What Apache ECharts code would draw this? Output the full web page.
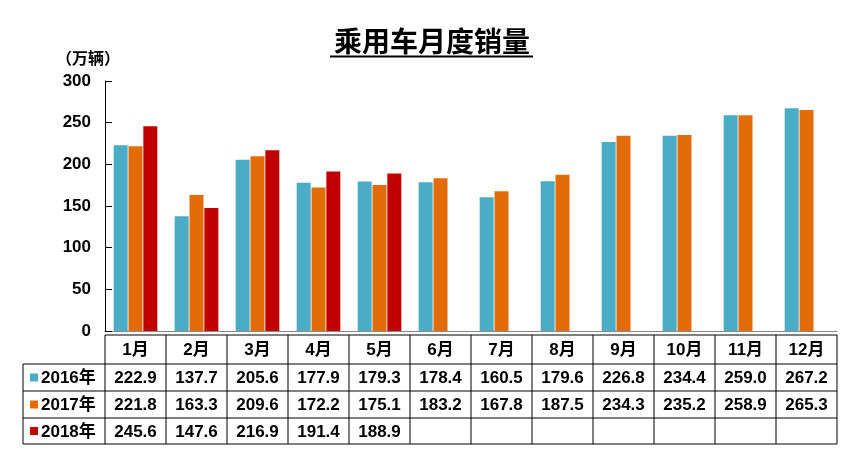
<!DOCTYPE html>
<html><head><meta charset="utf-8">
<script src="https://cdn.jsdelivr.net/npm/echarts@6/dist/echarts.min.js"></script>
<style>html,body{margin:0;padding:0;background:#fff}#c{width:852px;height:458px}</style>
</head><body><div id="c"></div>
<script>
var categories = ['1月','2月','3月','4月','5月','6月','7月','8月','9月','10月','11月','12月'];
var seriesNames = ['2016年','2017年','2018年'];
var sales2016 = [222.9,137.7,205.6,177.9,179.3,178.4,160.5,179.6,226.8,234.4,259.0,267.2];
var sales2017 = [221.8,163.3,209.6,172.2,175.1,183.2,167.8,187.5,234.3,235.2,258.9,265.3];
var sales2018 = [245.6,147.6,216.9,191.4,188.9];
var colors = ['#4BACC6','#E36C09','#C00000'];
var yTicks = [0,50,100,150,200,250,300];
var FONT = '"Liberation Sans", Arial, "Noto Sans CJK SC", sans-serif';
var allSeries = [sales2016, sales2017, sales2018];

var chart = echarts.init(document.getElementById('c'));
var option = {
  animation: false,
  backgroundColor: '#fff',
  grid: {left: 105, right: 15, top: 81, bottom: 127, containLabel: false},
  xAxis: {
    type: 'category', data: categories,
    axisLine: {lineStyle: {color: '#888', width: 1}},
    axisTick: {show: false}, axisLabel: {show: false}
  },
  yAxis: {
    type: 'value', min: yTicks[0], max: yTicks[yTicks.length-1], interval: 50,
    axisLine: {show: true, lineStyle: {color: '#000'}},
    axisTick: {show: true, inside: true, length: 7, lineStyle: {color: '#000'}},
    splitLine: {show: false},
    axisLabel: {color: '#000', fontWeight: 'bold', fontSize: 17, fontFamily: FONT, margin: 14}
  },
  series: allSeries.map(function(d, i){
    return {type: 'bar', name: seriesNames[i], data: d, barWidth: 14, barGap: '6%',
      itemStyle: {color: colors[i]}};
  }),
  graphic: []
};
chart.setOption(option);

function buildTable(){
  var g = [];
  var x0 = chart.convertToPixel({gridIndex:0}, [0,0])[0];
  var x1 = chart.convertToPixel({gridIndex:0}, [1,0])[0];
  var cw = x1 - x0;
  var left = x0 - cw/2;
  var right = left + cw*categories.length;
  var rows = [335, 364, 391, 418, 444];
  var legendLeft = 23;
  var ls = {stroke: '#000', lineWidth: 1};
  g.push({type:'line', shape:{x1:left, y1:rows[0], x2:right, y2:rows[0]}, style:ls});
  for (var r=1;r<rows.length;r++){
    g.push({type:'line', shape:{x1:legendLeft, y1:rows[r], x2:right, y2:rows[r]}, style:ls});
  }
  g.push({type:'line', shape:{x1:legendLeft, y1:rows[1], x2:legendLeft, y2:rows[4]}, style:ls});
  for (var c=0;c<=categories.length;c++){
    var xx = left + cw*c;
    g.push({type:'line', shape:{x1:xx, y1:rows[0], x2:xx, y2:rows[4]}, style:ls});
  }
  var ts = function(txt, x, y){
    return {type:'text', x:x, y:y, style:{text:txt, fill:'#000', font:'bold 17px '+FONT, textAlign:'center', textVerticalAlign:'middle'}};
  };
  categories.forEach(function(cat, i){
    var cx = chart.convertToPixel({gridIndex:0}, [i,0])[0];
    g.push(ts(cat, cx, (rows[0]+rows[1])/2+1));
    allSeries.forEach(function(d, s){
      if (d[i] != null) g.push(ts(d[i].toFixed(1), cx, (rows[s+1]+rows[s+2])/2+1));
    });
  });
  seriesNames.forEach(function(n, s){
    var cy = (rows[s+1]+rows[s+2])/2;
    g.push({type:'rect', shape:{x:30, y:cy-4, width:8, height:8}, style:{fill:colors[s]}});
    g.push({type:'text', x:41, y:cy+1, style:{text:n, fill:'#000', font:'bold 17px '+FONT, textAlign:'left', textVerticalAlign:'middle'}});
  });
  g.push({type:'text', x:432, y:44, style:{text:'乘用车月度销量', fill:'#000', font:'bold 28px '+FONT, textAlign:'center', textVerticalAlign:'middle'}});
  g.push({type:'line', shape:{x1:330, y1:56.5, x2:533, y2:56.5}, style:{stroke:'#000', lineWidth:2}});
  g.push({type:'text', x:88, y:58, style:{text:'（万辆）', fill:'#000', font:'bold 16px "Noto Sans CJK SC", sans-serif', textAlign:'center', textVerticalAlign:'middle'}});
  chart.setOption({graphic: g});
}
buildTable();
</script></body></html>
